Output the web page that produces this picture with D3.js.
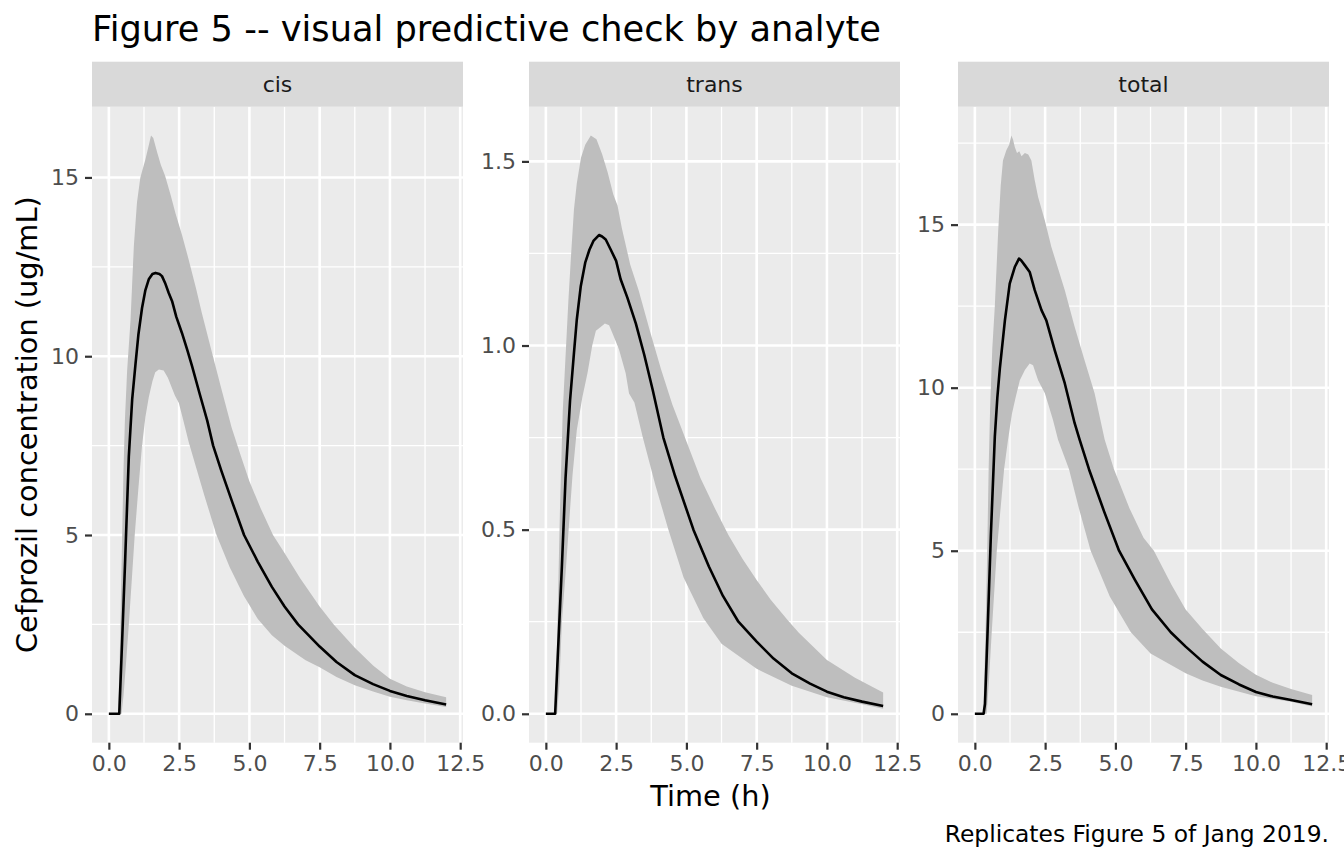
<!DOCTYPE html>
<html>
<head>
<meta charset="utf-8">
<script src="https://cdn.jsdelivr.net/npm/d3@7"></script>
<style>
  html, body { margin: 0; padding: 0; background: #fff; }
  svg { display: block; font-family: "DejaVu Sans", sans-serif; }
</style>
</head>
<body>
<svg id="chart" width="1344" height="864"></svg>
<script>
// ---------------- DATA ----------------
const analytes = ["cis", "trans", "total"];
const xTicks = [0, 2.5, 5, 7.5, 10, 12.5];
const cisYTicks = [0, 5, 10, 15];
const transYTicks = [0, 0.5, 1.0, 1.5];
const totalYTicks = [0, 5, 10, 15];

// [time (h), concentration (ug/mL)]
const cisUpper = [[0,0],[0.33,0],[0.4,2.0],[0.46,4.5],[0.52,6.8],[0.57,8.2],[0.65,9.6],[0.77,11.0],[0.89,13.1],[1.0,14.3],[1.12,15.0],[1.3,15.5],[1.42,15.9],[1.5,16.17],[1.58,16.1],[1.72,15.7],[1.85,15.35],[2.0,15.05],[2.2,14.5],[2.37,14.0],[2.6,13.4],[2.84,12.7],[3.1,11.9],[3.31,11.2],[3.67,10.1],[4.0,9.1],[4.37,8.0],[4.7,7.2],[5.0,6.5],[5.4,5.75],[5.84,5.0],[6.25,4.5],[6.8,3.8],[7.5,3.0],[8.0,2.5],[8.75,1.85],[9.4,1.35],[10,0.98],[10.6,0.76],[11.25,0.6],[12,0.46]];
const cisMedian = [[0,0],[0.37,0],[0.47,2.0],[0.58,4.3],[0.71,7.2],[0.83,8.8],[0.95,9.8],[1.05,10.6],[1.18,11.35],[1.3,11.85],[1.42,12.15],[1.55,12.3],[1.66,12.33],[1.8,12.3],[1.89,12.24],[2.0,12.05],[2.13,11.77],[2.25,11.54],[2.4,11.1],[2.6,10.65],[2.8,10.15],[2.96,9.72],[3.23,8.95],[3.5,8.2],[3.71,7.5],[4.0,6.8],[4.4,5.9],[4.81,5.0],[5.3,4.25],[5.8,3.55],[6.25,3.0],[6.73,2.5],[7.5,1.88],[8.1,1.45],[8.75,1.08],[9.4,0.83],[10,0.64],[10.6,0.5],[11.25,0.38],[12,0.26]];
const cisLower = [[0,0],[0.45,0],[0.52,0.5],[0.6,1.3],[0.71,2.5],[0.82,3.8],[0.92,5.0],[1.05,6.3],[1.18,7.5],[1.3,8.3],[1.42,8.85],[1.55,9.3],[1.65,9.55],[1.78,9.63],[1.95,9.6],[2.1,9.4],[2.25,9.1],[2.35,8.9],[2.49,8.69],[2.65,8.2],[2.84,7.6],[3.1,6.9],[3.4,6.1],[3.83,5.0],[4.3,4.1],[4.8,3.3],[5.3,2.65],[5.8,2.2],[6.25,1.9],[7.0,1.5],[7.5,1.3],[8.1,1.03],[8.75,0.8],[9.4,0.62],[10,0.48],[10.6,0.38],[11.25,0.29],[12,0.19]];

const transUpper = [[0,0],[0.33,0],[0.4,0.2],[0.5,0.55],[0.6,0.82],[0.7,0.97],[0.8,1.12],[0.9,1.25],[1.0,1.37],[1.1,1.44],[1.25,1.51],[1.4,1.545],[1.6,1.57],[1.8,1.56],[2.0,1.52],[2.2,1.47],[2.4,1.41],[2.55,1.38],[2.7,1.32],[3.0,1.22],[3.3,1.15],[3.7,1.04],[4.1,0.935],[4.5,0.84],[5.0,0.74],[5.5,0.64],[6.0,0.56],[6.5,0.485],[7.0,0.42],[7.5,0.363],[8.0,0.31],[8.6,0.255],[9.0,0.22],[10,0.146],[11,0.098],[12,0.058]];
const transMedian = [[0,0],[0.33,0],[0.45,0.2],[0.57,0.40],[0.7,0.64],[0.86,0.85],[1.0,0.98],[1.1,1.07],[1.24,1.16],[1.4,1.225],[1.55,1.26],[1.7,1.285],[1.89,1.30],[2.0,1.296],[2.13,1.288],[2.31,1.26],[2.5,1.23],[2.66,1.18],[2.9,1.13],[3.2,1.06],[3.5,0.975],[3.8,0.88],[4.18,0.75],[4.6,0.645],[5.25,0.50],[5.8,0.40],[6.3,0.32],[6.85,0.25],[7.5,0.196],[8.1,0.15],[8.75,0.11],[9.4,0.082],[10,0.06],[10.6,0.045],[11.25,0.033],[12,0.021]];
const transLower = [[0,0],[0.4,0],[0.48,0.08],[0.57,0.25],[0.7,0.38],[0.81,0.5],[0.95,0.65],[1.1,0.77],[1.3,0.86],[1.48,0.925],[1.65,1.0],[1.78,1.04],[1.95,1.05],[2.1,1.06],[2.25,1.055],[2.37,1.033],[2.6,0.99],[2.84,0.925],[2.96,0.87],[3.15,0.845],[3.45,0.75],[3.9,0.62],[4.36,0.50],[4.9,0.37],[5.6,0.26],[6.25,0.19],[7.5,0.122],[8.75,0.076],[10,0.045],[11.25,0.026],[12,0.014]];

const totalUpper = [[0,0],[0.3,0],[0.38,2.5],[0.44,5.0],[0.49,7.5],[0.54,9.3],[0.62,11.2],[0.71,12.5],[0.83,14.8],[0.92,16.2],[1.0,16.97],[1.12,17.28],[1.22,17.45],[1.3,17.73],[1.36,17.6],[1.42,17.38],[1.5,17.2],[1.58,17.25],[1.66,17.1],[1.78,17.2],[1.9,17.15],[2.01,16.97],[2.13,16.36],[2.25,15.85],[2.49,15.13],[2.72,14.32],[3.2,12.99],[3.55,11.87],[3.9,10.85],[4.26,9.83],[4.62,8.4],[4.95,7.5],[5.5,6.3],[6.0,5.4],[6.37,5.0],[7.0,3.95],[7.5,3.2],[8.1,2.6],[8.75,2.0],[9.4,1.55],[10,1.2],[10.6,0.95],[11.25,0.76],[12,0.58]];
const totalMedian = [[0,0],[0.31,0],[0.36,0.3],[0.45,2.46],[0.57,5.5],[0.71,8.5],[0.8,9.7],[0.89,10.6],[1.07,12.07],[1.24,13.19],[1.42,13.7],[1.57,13.96],[1.65,13.9],[1.78,13.75],[1.95,13.55],[2.13,12.99],[2.37,12.38],[2.54,12.07],[2.84,11.15],[3.2,10.13],[3.55,8.91],[3.73,8.4],[4.06,7.5],[4.6,6.2],[5.13,5.0],[5.7,4.1],[6.3,3.2],[6.97,2.5],[7.5,2.06],[8.1,1.6],[8.75,1.19],[9.4,0.9],[10,0.67],[10.6,0.53],[11.25,0.42],[12,0.29]];
const totalLower = [[0,0],[0.42,0],[0.5,1.0],[0.6,2.5],[0.78,5.0],[1.04,7.5],[1.18,8.4],[1.32,9.2],[1.45,9.7],[1.6,10.23],[1.78,10.54],[1.95,10.74],[2.07,10.69],[2.25,10.23],[2.49,9.83],[2.6,9.52],[2.78,9.01],[2.96,8.4],[3.35,7.5],[3.7,6.3],[4.12,5.0],[4.8,3.6],[5.55,2.5],[6.25,1.85],[7.5,1.24],[8.1,1.02],[8.75,0.83],[10,0.54],[11.25,0.37],[12,0.22]];

const titleText = "Figure 5 -- visual predictive check by analyte";
const xTitle = "Time (h)";
const yTitle = "Cefprozil concentration (ug/mL)";
const captionText = "Replicates Figure 5 of Jang 2019.";

// ---------------- LAYOUT ----------------
const svg = d3.select("#chart");
const panelLeft = [92, 529, 958];
const panelW = 371;
const stripTop = 61.7, panelTop = 106.7, panelBottom = 742.7;
const tickFont = 22;

const panels = [
  { name: analytes[0], upper: cisUpper, median: cisMedian, lower: cisLower, yTicks: cisYTicks, fmt: d3.format("d") },
  { name: analytes[1], upper: transUpper, median: transMedian, lower: transLower, yTicks: transYTicks, fmt: d3.format(".1f") },
  { name: analytes[2], upper: totalUpper, median: totalMedian, lower: totalLower, yTicks: totalYTicks, fmt: d3.format("d") }
];

function minorBetween(ticks, domain) {
  const step = ticks[1] - ticks[0];
  const out = [];
  for (let v = ticks[0] - step / 2; v <= domain[1]; v += step) {
    if (v >= domain[0] && v <= domain[1]) out.push(v);
  }
  return out.filter(v => !ticks.some(t => Math.abs(t - v) < 1e-9));
}

panels.forEach((p, i) => {
  const left = panelLeft[i];
  const all = p.upper.concat(p.lower, p.median);
  const xMin = d3.min(all, d => d[0]), xMax = d3.max(all, d => d[0]);
  const xPad = (xMax - xMin) * 0.05;
  const x = d3.scaleLinear().domain([xMin - xPad, xMax + xPad]).range([left, left + panelW]);
  const yMin = d3.min(all, d => d[1]), yMax = d3.max(all, d => d[1]);
  const yPad = (yMax - yMin) * 0.05;
  const y = d3.scaleLinear().domain([yMin - yPad, yMax + yPad]).range([panelBottom, panelTop]);

  const g = svg.append("g");
  g.append("rect").attr("x", left).attr("y", panelTop).attr("width", panelW)
    .attr("height", panelBottom - panelTop).attr("fill", "#EBEBEB");

  const xMinor = minorBetween(xTicks, x.domain());
  const yMinor = minorBetween(p.yTicks, y.domain());
  g.selectAll(".yminor").data(yMinor).join("line")
    .attr("x1", left).attr("x2", left + panelW)
    .attr("y1", d => y(d)).attr("y2", d => y(d))
    .attr("stroke", "#fff").attr("stroke-width", 1.3);
  g.selectAll(".xminor").data(xMinor).join("line")
    .attr("y1", panelTop).attr("y2", panelBottom)
    .attr("x1", d => x(d)).attr("x2", d => x(d))
    .attr("stroke", "#fff").attr("stroke-width", 1.3);
  g.selectAll(".ymajor").data(p.yTicks).join("line")
    .attr("x1", left).attr("x2", left + panelW)
    .attr("y1", d => y(d)).attr("y2", d => y(d))
    .attr("stroke", "#fff").attr("stroke-width", 2.6);
  g.selectAll(".xmajor").data(xTicks).join("line")
    .attr("y1", panelTop).attr("y2", panelBottom)
    .attr("x1", d => x(d)).attr("x2", d => x(d))
    .attr("stroke", "#fff").attr("stroke-width", 2.6);

  const ring = p.upper.concat(p.lower.slice().reverse());
  const lineGen = d3.line().x(d => x(d[0])).y(d => y(d[1]));
  g.append("path").attr("d", lineGen(ring) + "Z").attr("fill", "#BEBEBE").attr("stroke", "none");

  g.append("path").attr("d", lineGen(p.median)).attr("fill", "none")
    .attr("stroke", "#000").attr("stroke-width", 2.6).attr("stroke-linejoin", "round");

  g.append("rect").attr("x", left).attr("y", stripTop).attr("width", panelW)
    .attr("height", panelTop - stripTop).attr("fill", "#D9D9D9");
  g.append("text").attr("x", left + panelW / 2).attr("y", (stripTop + panelTop) / 2)
    .attr("text-anchor", "middle").attr("dominant-baseline", "central")
    .attr("font-size", tickFont).attr("fill", "#1A1A1A").text(p.name);

  const ya = g.append("g").attr("transform", `translate(${left},0)`)
    .call(d3.axisLeft(y).tickValues(p.yTicks).tickFormat(p.fmt).tickSize(7).tickPadding(6));
  const xa = g.append("g").attr("transform", `translate(0,${panelBottom})`)
    .call(d3.axisBottom(x).tickValues(xTicks).tickFormat(d3.format(".1f")).tickSize(7).tickPadding(6));
  [ya, xa].forEach(a => {
    a.select(".domain").remove();
    a.selectAll(".tick line").attr("stroke", "#333333").attr("stroke-width", 2.2);
    a.selectAll(".tick text").attr("fill", "#4D4D4D").attr("font-size", tickFont)
      .attr("font-family", "DejaVu Sans");
  });
});

svg.append("text").attr("x", 92).attr("y", 41).attr("font-size", 35.2).attr("fill", "#000").text(titleText);
svg.append("text").attr("x", (92 + 1329) / 2).attr("y", 806).attr("text-anchor", "middle")
  .attr("font-size", 28.8).attr("fill", "#000").text(xTitle);
svg.append("text").attr("transform", `translate(37,${(panelTop + panelBottom) / 2}) rotate(-90)`)
  .attr("text-anchor", "middle").attr("font-size", 28.8).attr("fill", "#000").text(yTitle);
svg.append("text").attr("x", 1329).attr("y", 842).attr("text-anchor", "end")
  .attr("font-size", 23.4).attr("fill", "#000").text(captionText);
</script>
</body>
</html>
